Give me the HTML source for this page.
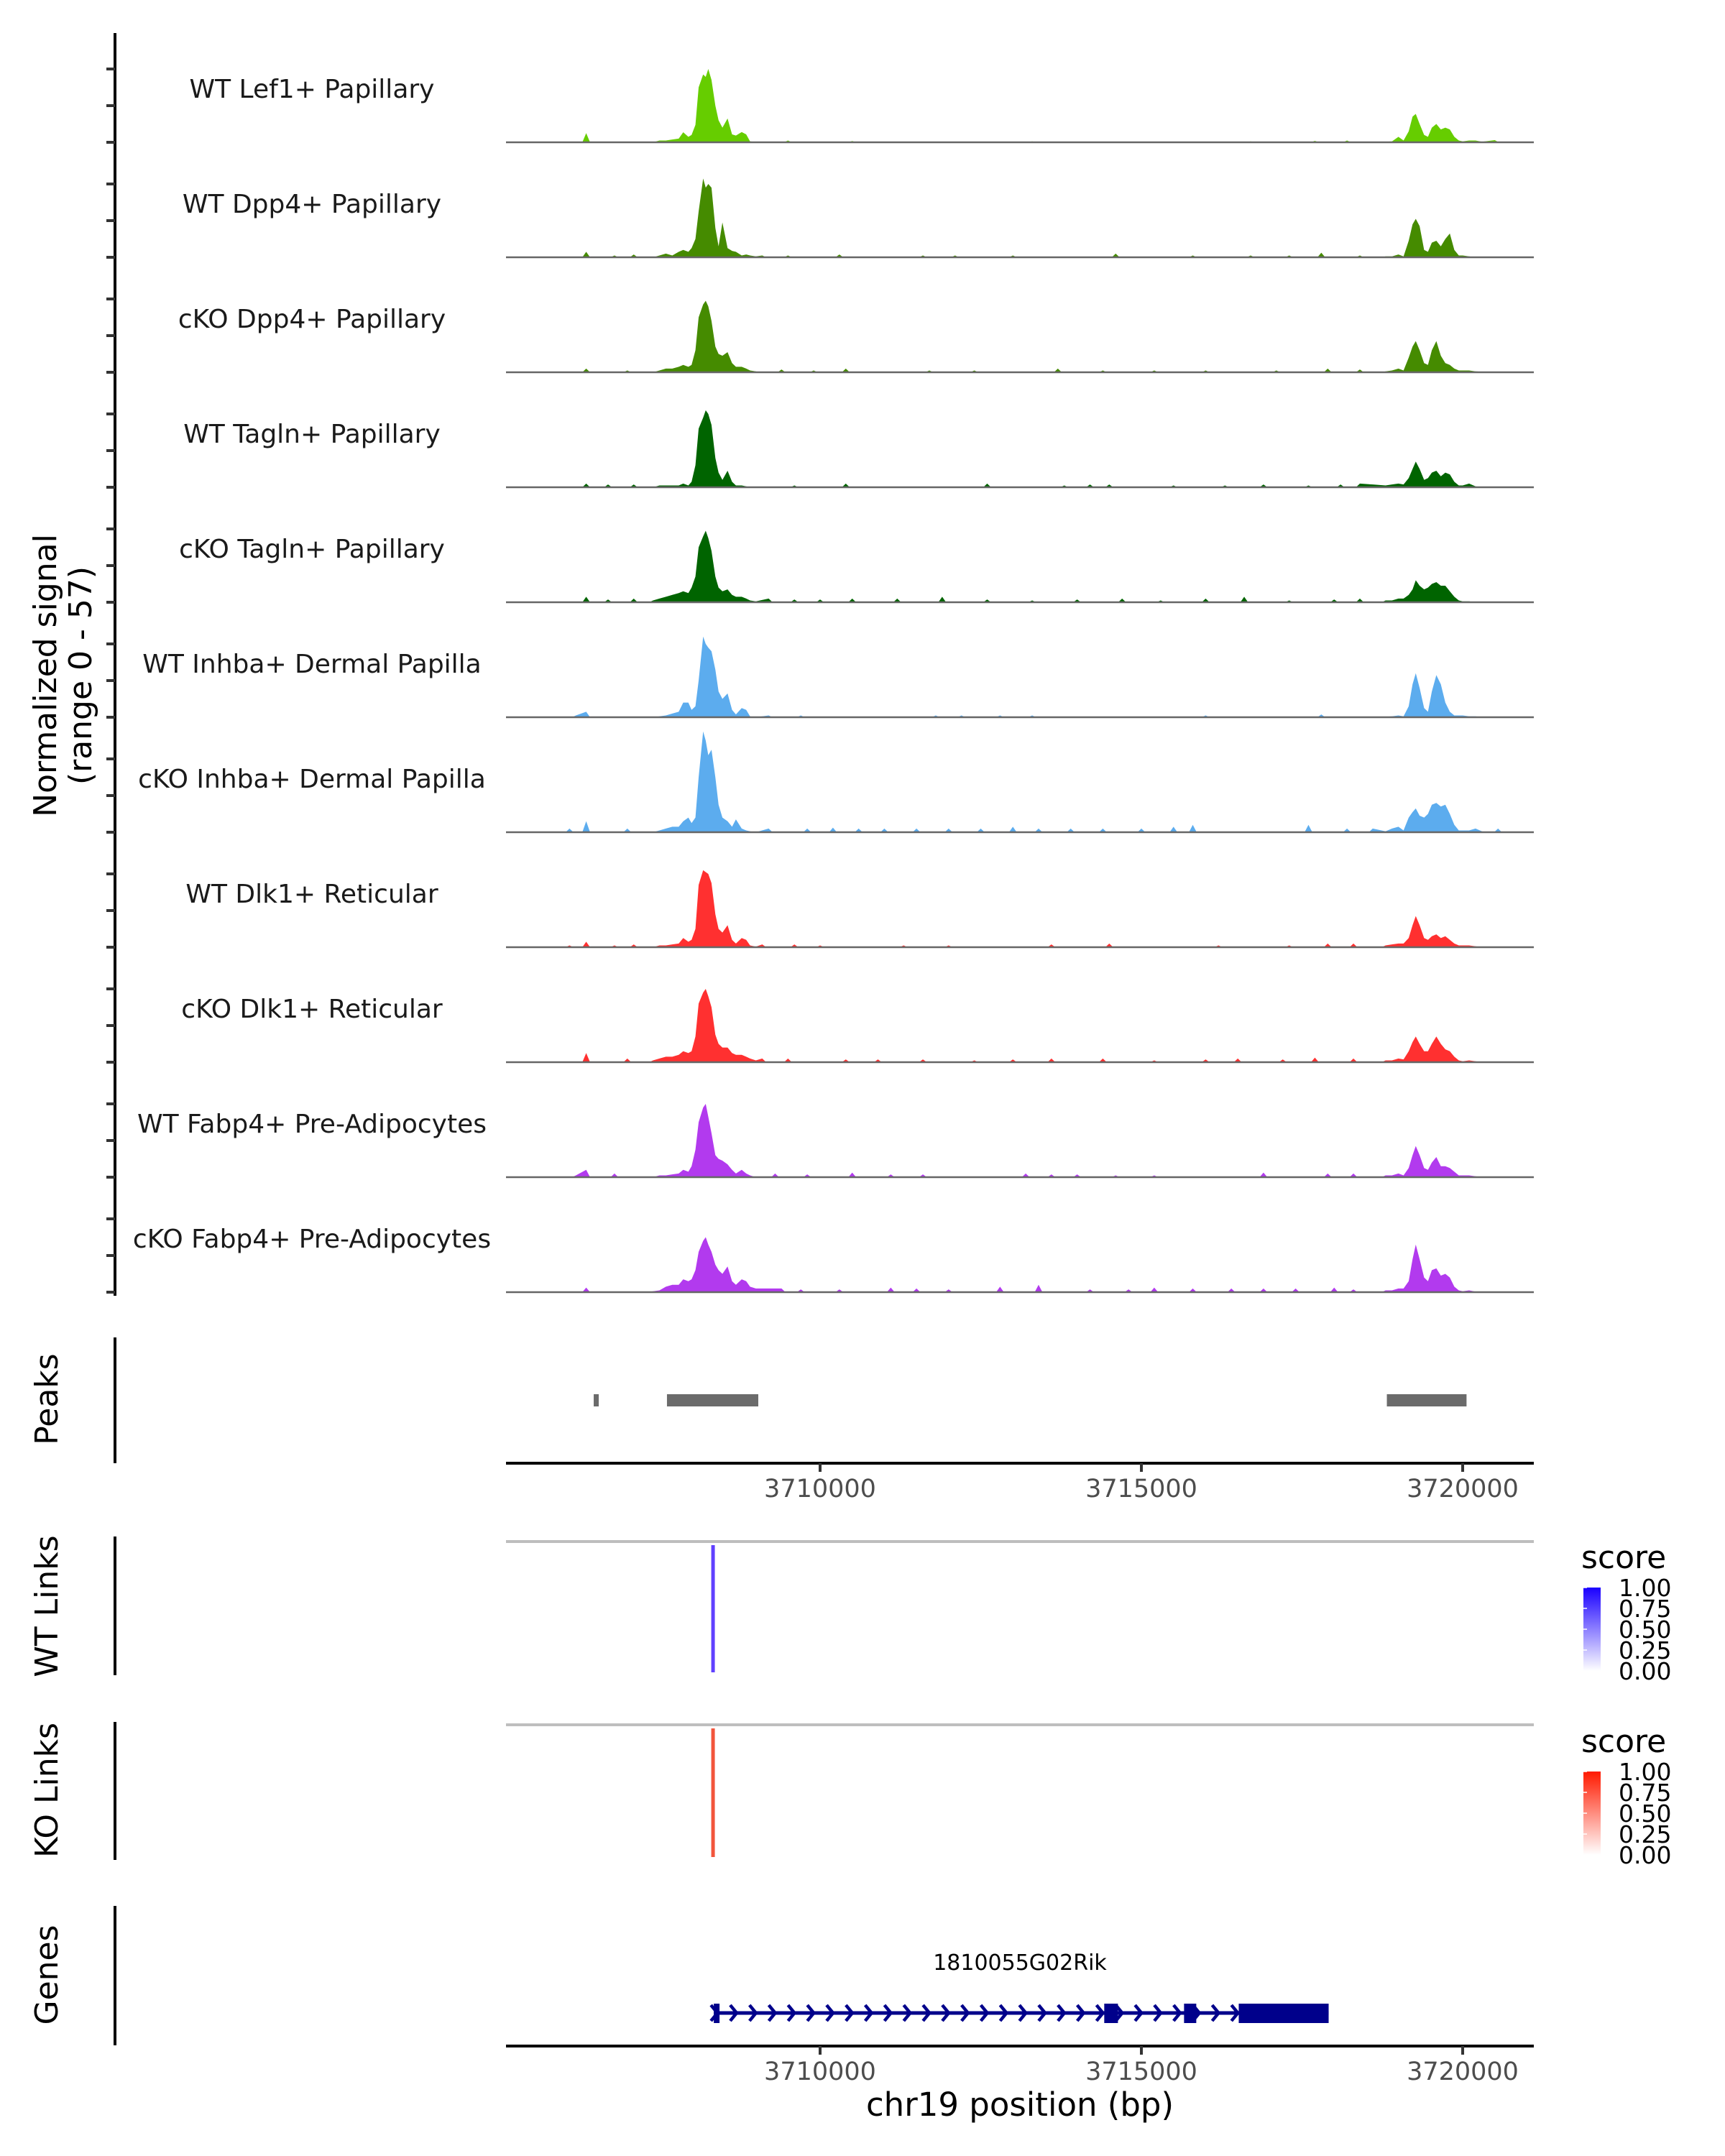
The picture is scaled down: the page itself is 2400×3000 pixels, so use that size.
<!DOCTYPE html>
<html><head><meta charset="utf-8">
<style>
html,body{margin:0;padding:0;background:#fff;}
svg{display:block;}
text{font-family:"DejaVu Sans","Liberation Sans",sans-serif;}
</style></head>
<body>
<svg id="chart" xmlns="http://www.w3.org/2000/svg" width="2400" height="3000" viewBox="0 0 2400 3000"></svg>
<script>
// ---- data ----
const trackNames = ["WT Lef1+ Papillary","WT Dpp4+ Papillary","cKO Dpp4+ Papillary","WT Tagln+ Papillary","cKO Tagln+ Papillary","WT Inhba+ Dermal Papilla","cKO Inhba+ Dermal Papilla","WT Dlk1+ Reticular","cKO Dlk1+ Reticular","WT Fabp4+ Pre-Adipocytes","cKO Fabp4+ Pre-Adipocytes"];
const trackColors = ["#66CD00","#458B00","#458B00","#006400","#006400","#5CACEE","#5CACEE","#FF3030","#FF3030","#B23AEE","#B23AEE"];
const mainPos = [3707400,3707500,3707600,3707700,3707800,3707870,3707950,3708000,3708060,3708110,3708180,3708220,3708260,3708310,3708370,3708420,3708480,3708560,3708630,3708690,3708780,3708850,3708910,3709000];
const secPos = [3718800,3718900,3719000,3719080,3719160,3719220,3719270,3719330,3719400,3719460,3719520,3719590,3719660,3719730,3719800,3719870,3719940,3720000,3720100,3720200,3720300];
const mainVals = [
 [0,1,1,1.5,2,5.5,3,4,9.5,30,37,35.7,40,34,20,12,8,13,4.3,3.7,5.6,4.3,0.5,0.2],
 [0,1,2,1,3,4,3,5,10,25,43,38,40,38,16,6,19,5,3.5,3,1,1.5,1,0.5],
 [0,1,2,2,3,4,3,4,12,30,37,39,36,28,14,10,9,11,5,3,3,2,1,0.5],
 [0,1,1,1,1,2,1,3,12,32,38,42,40,34,16,8,4,9,3,1,1,0.5,0,0],
 [1,2,3,4,5,6,5,8,14,30,36,39,35,28,14,8,6,7,4,3,3,2,1,0.5],
 [0,0.5,1,2,3,8,8,4,6,20,44,40,38,36,26,14,10,13,4,1.5,5,4,0.5,0],
 [0,1,2,3,3,6,8,5,8,30,55,50,42,45,30,15,8,6,3,7,2,1,0.5,0],
 [0,1,1,1.5,2,5,3,4,10,34,42,41,40,35,18,10,8,12,4,2,5,4,1,0.3],
 [1,2,3,3,4,6,5,6,14,32,38,40,36,30,15,10,8,8,5,4,4,3,2,1],
 [0,1,1,1.5,2,4,3,6,15,30,38,40,33,24,12,10,9,7,4,2,4,2,1,0],
 [0.5,1,3,4,4,7,6,7,12,22,28,30,26,22,15,12,10,14,6,4,7,6,3,2]
];
const secVals = [
 [0.3,0.5,3,1,6,14,15.5,10,4,3,8,10,7,8,7,3,1,0.5,1,1,0.3],
 [0.5,0.5,1.5,0.5,9,18,21,17,4,3,8,9,6,10,13,4,1,1,0.5,0,0],
 [0.5,1,2,1,8,14,17,12,5,4,12,17,9,5,4,2,1,1,1,0.5,0.3],
 [1,1.5,2,1.5,5,10,14,10,4,5,8,9,6,8,7,3,1,1,2,0.5,0],
 [1,1,2,2,4,7,12,9,7,8,10,11,9,9,6,3,1,0.5,0.5,0,0],
 [0.3,0.5,1,0.5,6,18,24,16,5,3,14,23,18,8,3,1,1,1,0.5,0.5,0],
 [0.5,2,3,1,8,11,13,9,8,10,15,16,14,15,10,4,1,1,1,2,0.5],
 [1,1.5,2,2,5,12,17,12,5,4,6,7,5,6,4,2,1,1,1,0.5,0],
 [1,1,2,1.5,6,11,14,10,6,6,10,14,10,7,6,3,1,0.5,1,0.5,0],
 [1,1,2,1,5,12,17,12,5,4,8,11,6,6,5,3,1,1,1,0.5,0],
 [1,1,2,2,6,18,26,18,8,6,12,13,9,10,8,3,1,0.5,1,0.3,0]
];
const blips = [
 [[3706360,5],[3709500,1],[3710500,0.7],[3713300,0.5],[3716700,0.5],[3717700,0.8],[3718200,1],[3720500,1.2]],
 [[3706360,3],[3706800,1],[3707100,1.5],[3709100,1],[3709500,1],[3710300,1.5],[3711600,1],[3712100,1],[3713000,1],[3714600,2],[3715800,1],[3716700,1],[3717300,1],[3717800,2.5],[3718400,1]],
 [[3706360,2],[3707000,1],[3709400,1.5],[3709900,1],[3710400,2],[3711700,1],[3712400,1],[3713700,2],[3714400,1],[3715200,1],[3716000,1],[3717100,1],[3717900,2],[3718400,1.5]],
 [[3706360,2],[3706700,1.5],[3707100,1.5],[3709600,1],[3710400,2],[3712600,2],[3713800,1],[3714200,1.5],[3714500,1.5],[3715500,1],[3716300,1],[3716900,1.5],[3717600,1],[3718100,1.5],[3718400,2],[3718600,1.5]],
 [[3706360,3],[3706700,1.5],[3707100,2],[3709200,2],[3709600,1.5],[3710000,1.5],[3710500,2],[3711200,2],[3711900,3],[3712600,1.5],[3713300,1],[3714000,1.5],[3714700,2],[3715300,1],[3716000,2],[3716600,3],[3717300,1],[3718000,1.5],[3718400,2]],
 [[3706200,1],[3706360,3],[3709200,1],[3709700,1],[3711800,1],[3712200,1],[3712800,1],[3713300,1],[3716000,1],[3717800,1.5]],
 [[3706100,2],[3706360,6],[3707000,2],[3709200,2],[3709800,2],[3710200,2.5],[3710600,2],[3711000,2],[3711500,2],[3712000,2],[3712500,2],[3713000,3],[3713400,2],[3713900,2],[3714400,2],[3715000,2],[3715500,3],[3715800,4],[3717600,4],[3718200,2],[3718600,2],[3720550,2]],
 [[3706100,1],[3706360,3],[3706800,1],[3707100,1.5],[3709100,1.5],[3709600,1.5],[3710000,1],[3711300,1],[3712000,1],[3713600,1.5],[3714500,2],[3716200,1],[3717300,1],[3717900,2],[3718300,2]],
 [[3706360,5],[3707000,2],[3709100,2],[3709500,2],[3710400,1.5],[3710900,1.5],[3711600,1.5],[3712400,1],[3713000,1.5],[3713600,2],[3714400,2],[3715200,1],[3716000,1.5],[3716500,2],[3717200,1.5],[3717700,2.5],[3718300,2]],
 [[3706200,1],[3706360,4],[3706800,2],[3709300,2],[3709800,1.5],[3710500,2.5],[3711100,1.5],[3711600,1.5],[3713200,2],[3713600,1.5],[3714000,1.5],[3714600,1],[3715200,1],[3716900,2.5],[3717900,2],[3718300,2]],
 [[3706360,2.5],[3709200,2],[3709400,2],[3709700,1.5],[3710300,1.5],[3711100,2.5],[3711500,2],[3712000,1.5],[3712800,3],[3713400,4],[3714200,1.5],[3714800,1.5],[3715200,2.5],[3715800,2],[3716400,2],[3716900,2],[3717400,2],[3718000,2.5],[3718300,1.5]]
];
const peakStarts = [3706477,3707617,3718820];
const peakEnds = [3706555,3709038,3720060];
const xTicks = [3710000,3715000,3720000];
const xTickLabels = ["3710000","3715000","3720000"];
const wtLinkPos = [3708334];
const koLinkPos = [3708334];
const linkScores = [1.0];
const geneStart = 3708346, geneEnd = 3717914;
const exonStarts = [3708346,3714422,3715664,3716515];
const exonEnds = [3708435,3714635,3715854,3717914];
const legendTicks = ["1.00","0.75","0.50","0.25","0.00"];

// ---- scales ----
const X0 = 704, X1 = 2134, BP0 = 3705112, BP1 = 3721107;
function xs(bp){ return X0 + (bp - BP0) * (X1 - X0) / (BP1 - BP0); }
const PX_PER_UNIT = 2.55;
function baseY(i){ return 198 + 160 * i; }

const svg = document.getElementById('chart');
const NS = 'http://www.w3.org/2000/svg';
function mk(tag, attrs, parent){ const e = document.createElementNS(NS, tag); for (const k in attrs) e.setAttribute(k, attrs[k]); (parent||svg).appendChild(e); return e; }

const defs = mk('defs', {});
const g1 = mk('linearGradient', {id:'gradBlue', x1:0, y1:1, x2:0, y2:0}, defs);
mk('stop', {offset:'0', 'stop-color':'#ffffff'}, g1); mk('stop', {offset:'1', 'stop-color':'#1a00ff'}, g1);
const g2 = mk('linearGradient', {id:'gradRed', x1:0, y1:1, x2:0, y2:0}, defs);
mk('stop', {offset:'0', 'stop-color':'#ffffff'}, g2); mk('stop', {offset:'1', 'stop-color':'#ff1a00'}, g2);

let ax = mk('line', {x1:160, y1:46, x2:160, y2:1803, stroke:'#000', 'stroke-width':4});



for (let i = 0; i < trackNames.length; i++) {
  const by = baseY(i);
  for (let t = 0; t < 3; t++) {
    const tk = mk('line', {x1:148, y1:by - 51*t, x2:160, y2:by - 51*t, stroke:'#333', 'stroke-width':4});
    
    
  }
  const pts = [];
  mainPos.forEach((p, k) => pts.push([p, mainVals[i][k]]));
  secPos.forEach((p, k) => pts.push([p, secVals[i][k]]));
  blips[i].forEach(b => pts.push([b[0], b[1]]));
  pts.sort((a, b) => a[0] - b[0]);
  const yv = v => by - v * PX_PER_UNIT;
  let d = `M${xs(pts[0][0] - 60)},${by}`;
  for (let k = 0; k < pts.length; k++) {
    d += ` L${xs(pts[k][0])},${yv(pts[k][1])}`;
    if (k < pts.length - 1 && pts[k+1][0] - pts[k][0] > 200) {
      d += ` L${xs(pts[k][0] + 60)},${by} L${xs(pts[k+1][0] - 60)},${by}`;
    }
  }
  d += ` L${xs(pts[pts.length-1][0] + 60)},${by} Z`;
  const area = mk('path', {d:d, fill:trackColors[i], stroke:'none'});
  
  
  const bl = mk('line', {x1:X0, y1:by, x2:X1, y2:by, stroke:'#666', 'stroke-width':2.5});
  
  
  const lb = mk('text', {x:434, y:by - 62, 'text-anchor':'middle', 'font-size':36, fill:'#1a1a1a'});
  lb.textContent = trackNames[i];
  
  
}

const yt = mk('text', {transform:'translate(78,940) rotate(-90)', 'text-anchor':'middle', 'font-size':44, fill:'#000'});


const ts1 = mk('tspan', {x:0, dy:0}, yt); ts1.textContent = 'Normalized signal';
const ts2 = mk('tspan', {x:0, dy:49}, yt); ts2.textContent = '(range 0 - 57)';

function sideTitle(txt, cy, name){
  const t = mk('text', {transform:`translate(80,${cy}) rotate(-90)`, 'text-anchor':'middle', 'font-size':44, fill:'#000'});
  t.textContent = txt;
  
  
}
function sideAxis(y1, y2, name){
  const l = mk('line', {x1:160, y1:y1, x2:160, y2:y2, stroke:'#000', 'stroke-width':4});
  
  
}

sideAxis(1861, 2036, 'peaks-y-axis');
sideTitle('Peaks', 1947, 'peaks-title');
for (let k = 0; k < peakStarts.length; k++) {
  const r = mk('rect', {x:xs(peakStarts[k]), y:1940, width:Math.max(6, xs(peakEnds[k]) - xs(peakStarts[k])), height:17, fill:'#6b6b6b'});
  
  
}
function xAxis(y, name){
  const l = mk('line', {x1:X0, y1:y, x2:X1, y2:y, stroke:'#000', 'stroke-width':4});
  
  
  xTicks.forEach((t, k) => {
    const tk = mk('line', {x1:xs(t), y1:y, x2:xs(t), y2:y + 12, stroke:'#333', 'stroke-width':4});
    
    
    const tl = mk('text', {x:xs(t), y:y + 47, 'text-anchor':'middle', 'font-size':35, fill:'#4d4d4d'});
    tl.textContent = xTickLabels[k];
    
    
  });
}
xAxis(2036, 'peaks-x-axis');

function linkPanel(y1, y2, grayY, pos, color, title, titleY, gradId, legY, prefix){
  sideAxis(y1, y2, prefix + '-y-axis');
  sideTitle(title, titleY, prefix + '-title');
  const g = mk('line', {x1:X0, y1:grayY, x2:X1, y2:grayY, stroke:'#bebebe', 'stroke-width':4});
  
  
  pos.forEach((p, k) => {
    const l = mk('line', {x1:xs(p), y1:grayY + 5, x2:xs(p), y2:y2 - 4, stroke:color, 'stroke-width':5, 'stroke-opacity':linkScores[k]});
    
    
  });
  const lt = mk('text', {x:2200, y:legY, 'font-size':44, fill:'#000'});
  lt.textContent = 'score';
  
  
  const barTop = legY + 27, barH = 116;
  const cb = mk('rect', {x:2203, y:barTop, width:24, height:barH, fill:`url(#${gradId})`});
  
  
  legendTicks.forEach((s, k) => {
    const yy = barTop + k * barH / 4;
    const tm = mk('line', {x1:2203, y1:yy, x2:2208, y2:yy, stroke:'#fff', 'stroke-width':1.5});
    
    
    const tt = mk('text', {x:2252, y:yy + 12, 'font-size':33, fill:'#000'});
    tt.textContent = s;
    
    
  });
}
linkPanel(2138, 2331, 2145, wtLinkPos, '#6040FF', 'WT Links', 2235, 'gradBlue', 2182, 'wt-links');
linkPanel(2396, 2588, 2400, koLinkPos, '#F2553C', 'KO Links', 2491, 'gradRed', 2438, 'ko-links');

sideAxis(2652, 2846, 'genes-y-axis');
sideTitle('Genes', 2748, 'genes-title');
const gl = mk('text', {x:1419, y:2741, 'text-anchor':'middle', 'font-size':30, fill:'#000'});
gl.textContent = '1810055G02Rik';


const gline = mk('line', {x1:xs(geneStart), y1:2801, x2:xs(geneEnd), y2:2801, stroke:'#00008B', 'stroke-width':5});


for (let bp = geneStart; bp < geneEnd; bp += 300) {
  const ax0 = xs(bp);
  const ch = mk('path', {d:`M${ax0-4},${2790} L${ax0+5},${2801} L${ax0-4},${2812}`, fill:'none', stroke:'#00008B', 'stroke-width':4.5});
  
  
}
for (let k = 0; k < exonStarts.length; k++) {
  const r = mk('rect', {x:xs(exonStarts[k]), y:2788, width:xs(exonEnds[k]) - xs(exonStarts[k]), height:27, fill:'#00008B'});
  
  
}
xAxis(2847, 'genes-x-axis');
const xt = mk('text', {x:1419, y:2944, 'text-anchor':'middle', 'font-size':45, fill:'#000'});
xt.textContent = 'chr19 position (bp)';


</script>
</body></html>
